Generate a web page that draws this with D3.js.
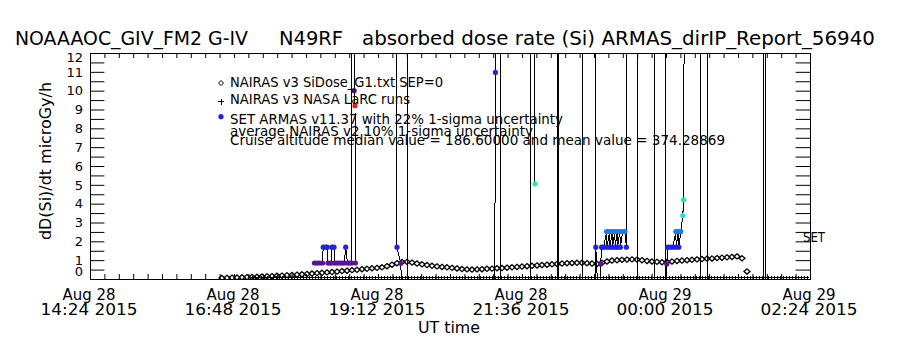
<!DOCTYPE html>
<html>
<head>
<meta charset="utf-8">
<title>ARMAS absorbed dose rate</title>
<script src="https://cdn.jsdelivr.net/npm/d3@7/dist/d3.min.js"></script>
<style>
  body { margin: 0; background: #fff; }
  svg { display: block; }
  text { font-family: "DejaVu Sans", sans-serif; fill: #000; }
</style>
</head>
<body>
<div id="chart"></div>
<script>
// ---- values ----
const titleParts = ["NOAAAOC_GIV_FM2 G-IV", "N49RF", "absorbed dose rate (Si) ARMAS_dirIP_Report_56940"];
const yLabel = "dD(Si)/dt microGy/h";
const xLabel = "UT time";
const sideLabel = "SET";
const legendLabels = [
  "NAIRAS v3 SiDose_G1.txt SEP=0",
  "NAIRAS v3 NASA LaRC runs",
  "SET ARMAS v11.37 with 22% 1-sigma uncertainty",
  "average NAIRAS v2 10% 1-sigma uncertainty",
  "Cruise altitude median value = 186.60000 and mean value = 374.28869"
];
const xTickTimes = ["14:24", "16:48", "19:12", "21:36", "00:00", "02:24"];
const yTickValues = [0, 1, 2, 3, 4, 5, 6, 7, 8, 9, 10, 11, 12];

// NAIRAS v3 model, one value every 5 min from 16:36 UT
const nairasStart = "16:36";
const nairasStepMin = 5;
const nairasDose = [
  0.05, 0.06, 0.07, 0.08, 0.09, 0.10, 0.11, 0.12, 0.13, 0.14,
  0.15, 0.17, 0.18, 0.20, 0.21, 0.23, 0.25, 0.27, 0.29, 0.31,
  0.33, 0.35, 0.37, 0.39, 0.42, 0.44, 0.47, 0.49, 0.52, 0.54,
  0.57, 0.59, 0.62, 0.68, 0.76, 0.84, 0.90, 0.91, 0.87, 0.82,
  0.78, 0.74, 0.70, 0.67, 0.64, 0.62, 0.59, 0.56, 0.53, 0.51,
  0.50, 0.51, 0.52, 0.54, 0.55, 0.57, 0.58, 0.60, 0.62, 0.64,
  0.66, 0.68, 0.70, 0.72, 0.74, 0.76, 0.78, 0.80, 0.82, 0.84,
  0.85, 0.86, 0.86, 0.84, 0.82, 0.80, 0.86, 0.93, 0.98, 1.00,
  1.02, 1.03, 1.04, 1.03, 1.00, 0.96, 0.93, 0.91, 0.89, 0.90,
  0.93, 0.96, 0.98, 1.00, 1.02, 1.04, 1.06, 1.08, 1.09, 1.11,
  1.13, 1.15, 1.17, 1.20, 1.10, 0.40
];

// NASA LaRC runs sit on the floor of the plot
const larcStart = "17:04";
const larcEnd = "02:22";
const larcStepMin = 3;
const larcDose = 0.07;

// ARMAS time series [UT, dose]; null = data gap, >12 = off scale
const armas = [
  ["18:08:30", 0.85], ["18:11:00", 0.85], ["18:13:30", 0.85], ["18:16:30", 0.85],
  ["18:17:12", 1.69], ["18:19:30", 1.69], ["18:21:18", 1.69], ["18:21:54", 0.85],
  ["18:24:00", 0.85], ["18:25:24", 0.85], ["18:26:00", 1.69], ["18:28:00", 1.69],
  ["18:28:36", 0.85], ["18:31:00", 0.85], ["18:33:30", 0.85], ["18:36:00", 0.85],
  ["18:38:18", 0.85], ["18:39:42", 1.69], ["18:41:30", 0.85], ["18:43:30", 0.85],
  ["18:45:36", 0.85], ["18:45:48", 25], ["18:47:54", 25], ["18:48:06", 10.0],
  ["18:49:00", 9.2], ["18:49:24", 0.85], ["18:50:30", null],
  ["19:29:30", 25], ["19:31:00", 1.69], ["19:34:42", 0.83], ["19:35:30", 0],
  ["19:41:36", 0], ["19:41:48", 25], ["19:42:30", null],
  ["21:08:48", 0], ["21:09:24", 10.97], ["21:09:42", 25], ["21:14:06", 25],
  ["21:14:18", 0], ["21:44:36", 0], ["21:44:48", 25], ["21:48:48", 25],
  ["21:49:00", 5.05], ["21:50:00", null],
  ["22:11:48", 0], ["22:12:00", 25], ["22:12:12", 0], ["22:36:12", 0],
  ["22:36:24", 25], ["22:36:36", 0], ["22:49:24", 0], ["22:49:36", 25],
  ["22:49:48", 1.69], ["22:51:18", 0], ["22:54:12", 0], ["22:54:42", 0.8],
  ["22:55:36", 1.69], ["22:57:36", 1.69], ["23:00:36", 2.52], ["23:01:00", 1.69],
  ["23:03:36", 2.52], ["23:04:00", 1.69], ["23:06:12", 2.52], ["23:06:36", 1.69],
  ["23:08:48", 2.52], ["23:09:12", 1.69], ["23:11:12", 2.52], ["23:11:36", 1.69],
  ["23:13:48", 2.52], ["23:14:24", 1.69], ["23:16:36", 2.52], ["23:19:00", 2.52],
  ["23:20:24", 1.69], ["23:20:42", 25], ["23:31:12", 25], ["23:31:24", 0],
  ["23:48:12", 0], ["23:48:24", 25], ["23:59:24", 25], ["23:59:36", 0],
  ["00:00:48", 0.8], ["00:01:48", 1.69], ["00:04:24", 1.69], ["00:07:00", 1.69],
  ["00:09:48", 2.52], ["00:10:12", 1.69], ["00:12:24", 2.52], ["00:12:48", 1.69],
  ["00:14:48", 2.52], ["00:16:48", 3.37], ["00:17:36", 4.2], ["00:18:48", 25],
  ["00:34:18", 25], ["00:34:30", 0], ["00:41:18", 0], ["00:41:30", 25],
  ["00:41:42", 0], ["01:37:12", 0], ["01:37:24", 25], ["01:38:54", 25],
  ["01:39:06", 0], ["02:04:00", 0]
];

// ---- drawing ----
const W = 900, H = 350;
const margin = {top: 53, right: 90, bottom: 71, left: 90};

const day0 = Date.UTC(2015, 7, 28);
function ut(s) {
  const [h, m, sec = 0] = s.split(":").map(Number);
  return new Date(day0 + ((h < 12 ? h + 24 : h) * 3600 + m * 60 + sec) * 1000);
}

const x = d3.scaleUtc()
  .domain([ut(xTickTimes[0]), ut(xTickTimes[xTickTimes.length - 1])])
  .range([margin.left, W - margin.right]);
const y = d3.scaleLinear()
  .domain([0, 12])
  .range([H - margin.bottom, margin.top]);

const doseColor = d3.scaleThreshold()
  .domain([1.2, 2.1, 2.9, 3.8, 4.6, 7, 9.6, 10.5])
  .range(["#5a148c", "#2424dc", "#1e78e6", "#24e0e4", "#24e6a4", "#34e894", "#e41c1c", "#4e0c66", "#3c1cd4"]);

const svg = d3.select("#chart").append("svg")
  .attr("width", W)
  .attr("height", H);

// title, in three pieces to keep the wide gaps
const titleBox = [[15, 233], [279, 64], [362, 513]];
titleParts.forEach((t, i) => {
  svg.append("text")
    .attr("x", titleBox[i][0])
    .attr("y", 45)
    .attr("font-size", 20)
    .attr("textLength", titleBox[i][1])
    .attr("lengthAdjust", "spacingAndGlyphs")
    .text(t);
});

// axes (IDL style: ticks point inwards)
const t0 = +x.domain()[0];
const xMinor = d3.range(0, 51).map(i => new Date(t0 + i * 14.4 * 60000));
const yMinor = d3.range(0, 12.01, 0.5);

svg.append("g")
  .attr("transform", `translate(0,${y(0)})`)
  .call(d3.axisBottom(x).tickValues(xMinor).tickSize(-5).tickFormat(""))
  .call(g => g.select(".domain").remove());
svg.append("g")
  .attr("transform", `translate(0,${y(12)})`)
  .call(d3.axisTop(x).tickValues(xMinor).tickSize(-5).tickFormat(""))
  .call(g => g.select(".domain").remove());

const yAxisL = svg.append("g")
  .attr("transform", `translate(${x.range()[0]},0)`)
  .call(d3.axisLeft(y).tickValues(yMinor).tickSize(-14.4).tickPadding(7)
    .tickFormat(d => yTickValues.includes(d) ? d : ""))
  .call(g => g.select(".domain").remove());
yAxisL.selectAll("text")
  .attr("font-size", 13)
  .attr("font-family", "DejaVu Sans")
  .attr("fill", "#000")
  .attr("dy", d => d === 0 ? "-0.28em" : d === 12 ? "0.62em" : "0.32em");

svg.append("g")
  .attr("transform", `translate(${x.range()[1]},0)`)
  .call(d3.axisRight(y).tickValues(yMinor).tickSize(-14.4).tickFormat(""))
  .call(g => g.select(".domain").remove());

svg.append("rect")
  .attr("x", x.range()[0])
  .attr("y", y(12))
  .attr("width", x.range()[1] - x.range()[0])
  .attr("height", y(0) - y(12))
  .attr("fill", "none")
  .attr("stroke", "#000")
  .attr("shape-rendering", "crispEdges");

// x tick labels: date line over time line
const fmtDay = d3.utcFormat("%b %d");
const fmtTime = d3.utcFormat("%H:%M %Y");
xTickTimes.forEach(s => {
  const d = ut(s);
  const tx = x(d) - 1;
  svg.append("text").attr("x", tx).attr("y", 300).attr("text-anchor", "middle")
    .attr("font-size", 15).attr("textLength", 53).attr("lengthAdjust", "spacingAndGlyphs")
    .text(fmtDay(d));
  svg.append("text").attr("x", tx).attr("y", 315).attr("text-anchor", "middle")
    .attr("font-size", 16).attr("textLength", 97).attr("lengthAdjust", "spacingAndGlyphs")
    .text(fmtTime(d));
});

svg.append("text")
  .attr("x", 449).attr("y", 333).attr("text-anchor", "middle")
  .attr("font-size", 16).attr("textLength", 62).attr("lengthAdjust", "spacingAndGlyphs")
  .text(xLabel);

svg.append("text")
  .attr("transform", "translate(51,161) rotate(-90)")
  .attr("text-anchor", "middle")
  .attr("font-size", 16).attr("textLength", 158).attr("lengthAdjust", "spacingAndGlyphs")
  .text(yLabel);

// data layer
svg.append("clipPath").attr("id", "plot-clip")
  .append("rect")
  .attr("x", x.range()[0]).attr("y", y(12))
  .attr("width", x.range()[1] - x.range()[0]).attr("height", y(0) - y(12));

const plot = svg.append("g").attr("clip-path", "url(#plot-clip)");

const diamond = (cx, cy, w, h) => `M${cx},${cy - h}L${cx + w},${cy}L${cx},${cy + h}L${cx - w},${cy}Z`;
const plus = (cx, cy, r) => `M${cx - r},${cy}H${cx + r}M${cx},${cy - r}V${cy + r}`;

// NAIRAS v3 diamonds
const nT0 = +ut(nairasStart);
const nairas = nairasDose.map((v, i) => ({t: new Date(nT0 + i * nairasStepMin * 60000), v}));
plot.append("path")
  .attr("d", nairas.map(d => diamond(x(d.t), y(d.v), 3, 2.6)).join(""))
  .attr("fill", "none")
  .attr("stroke", "#000")
  .attr("stroke-width", 1.3);

// LaRC plus signs
const larcTimes = d3.utcMinute.every(larcStepMin).range(ut(larcStart), ut(larcEnd));
plot.append("path")
  .attr("d", larcTimes.map(t => plus(x(t), y(larcDose), 1.5)).join(""))
  .attr("stroke", "#000")
  .attr("stroke-width", 1)
  .attr("shape-rendering", "crispEdges");

// ARMAS line and points
const line = d3.line()
  .defined(d => d[1] != null)
  .x(d => x(ut(d[0])))
  .y(d => y(d[1]));

plot.append("path")
  .datum(armas)
  .attr("d", line)
  .attr("fill", "none")
  .attr("stroke", "#000")
  .attr("stroke-width", 1)
  .attr("shape-rendering", "crispEdges");

plot.selectAll(".armas-dot")
  .data(armas.filter(d => d[1] != null && d[1] > 0 && d[1] <= 12))
  .join("circle")
  .attr("class", "armas-dot")
  .attr("cx", d => x(ut(d[0])))
  .attr("cy", d => y(d[1]))
  .attr("r", 2.6)
  .attr("fill", d => doseColor(d[1]));

// legend
const legendX = 230;
const legendBase = [86.5, 104, 123.5, 136, 145];
const legendLen = [213, 180, 333, 303, 495];
legendLabels.forEach((t, i) => {
  svg.append("text")
    .attr("x", legendX).attr("y", legendBase[i])
    .attr("font-size", 14)
    .attr("textLength", legendLen[i]).attr("lengthAdjust", "spacingAndGlyphs")
    .text(t);
});
svg.append("path").attr("d", diamond(221, 83, 2.5, 2.5))
  .attr("fill", "none").attr("stroke", "#000");
svg.append("path").attr("d", plus(221, 101.5, 3))
  .attr("stroke", "#000").attr("shape-rendering", "crispEdges");
svg.append("circle").attr("cx", 221).attr("cy", 116.7).attr("r", 2.6)
  .attr("fill", doseColor(1.69));

svg.append("text")
  .attr("x", 803).attr("y", 242)
  .attr("font-size", 14).attr("textLength", 22).attr("lengthAdjust", "spacingAndGlyphs")
  .text(sideLabel);
</script>
</body>
</html>
